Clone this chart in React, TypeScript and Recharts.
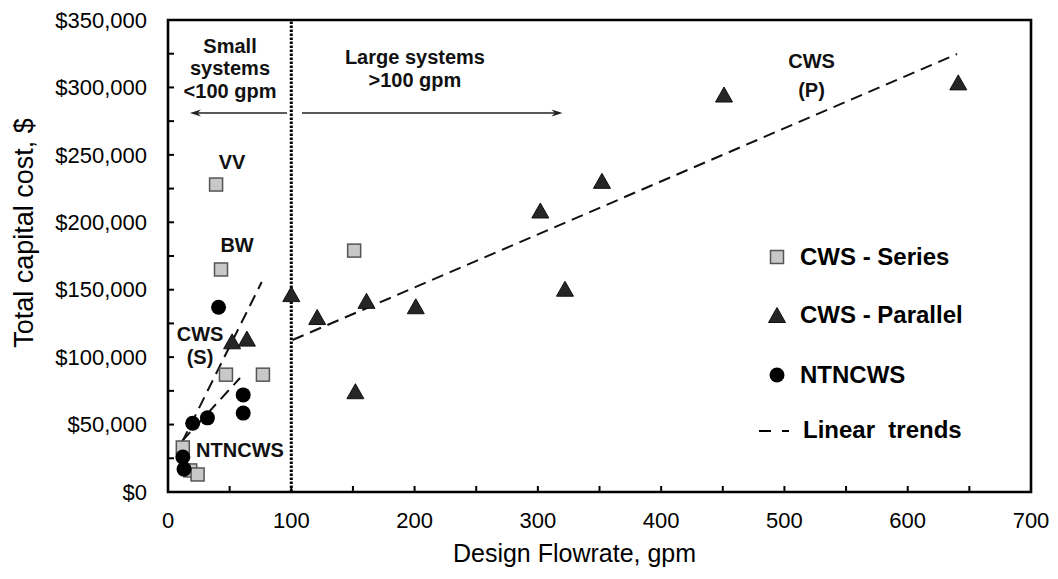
import React from 'react'
import { ScatterChart, Scatter, XAxis, YAxis, ReferenceLine, ReferenceArea, ReferenceDot, Legend } from 'recharts'

// design flowrate (gpm) vs total capital cost ($)
const cwsSeries = [
  { x: 39, y: 228000 }, { x: 43, y: 165000 }, { x: 151, y: 179000 }, { x: 47, y: 87000 },
  { x: 77, y: 87000 }, { x: 12, y: 33000 }, { x: 18, y: 16000 }, { x: 24, y: 13000 },
]
const cwsParallel = [
  { x: 100, y: 146000 }, { x: 121, y: 129000 }, { x: 161, y: 141000 }, { x: 201, y: 137000 },
  { x: 152, y: 74000 }, { x: 302, y: 208000 }, { x: 322, y: 150000 }, { x: 352, y: 230000 },
  { x: 451, y: 294000 }, { x: 641, y: 303000 }, { x: 52, y: 111000 }, { x: 64, y: 113000 },
]
const ntncws = [
  { x: 41, y: 137000 }, { x: 61, y: 72000 }, { x: 61, y: 58500 }, { x: 32, y: 55000 },
  { x: 20, y: 51000 }, { x: 12, y: 26000 }, { x: 13, y: 17000 },
]

// linear trend end points
const trendP = [{ x: 101, y: 112700 }, { x: 640, y: 324800 }]
const trendS = [{ x: 11.4, y: 37000 }, { x: 76, y: 155700 }]
const trendN = [{ x: 11.4, y: 37800 }, { x: 58.4, y: 84500 }]

// arrows (from -> to)
const arrowSmall = [{ x: 96.5, y: 281000 }, { x: 17.8, y: 281000 }]
const arrowLarge = [{ x: 108.7, y: 281000 }, { x: 320, y: 281000 }]

const xTicks = [0, 50, 100, 150, 200, 250, 300, 350, 400, 450, 500, 550, 600, 650, 700]
const yTicks = [0, 25000, 50000, 75000, 100000, 125000, 150000, 175000, 200000, 225000, 250000, 275000, 300000, 325000, 350000]

const notes = [
  { x: 50.3, y: 331000, lines: ['Small', 'systems', '<100 gpm'], gap: 22.5 },
  { x: 200.3, y: 322600, lines: ['Large systems', '>100 gpm'], gap: 23 },
  { x: 522, y: 319600, lines: ['CWS', '(P)'], gap: 29 },
  { x: 52, y: 244700, lines: ['VV'], gap: 0 },
  { x: 56, y: 183000, lines: ['BW'], gap: 0 },
  { x: 26, y: 117000, lines: ['CWS', '(S)'], gap: 23 },
  { x: 58.4, y: 31000, lines: ['NTNCWS'], gap: 0 },
]

const FONT = '"Liberation Sans", Arial, sans-serif'

const Square = ({ cx, cy }: any) => (
  <rect x={cx - 6.5} y={cy - 6.5} width={13} height={13} fill="#c8c8c8" stroke="#555" strokeWidth={1.5} />
)
const Triangle = ({ cx, cy }: any) => (
  <polygon points={`${cx},${cy - 8.5} ${cx + 8.5},${cy + 6.5} ${cx - 8.5},${cy + 6.5}`} fill="#262626" stroke="#111" strokeWidth={1} />
)
const Dot = ({ cx, cy }: any) => <circle cx={cx} cy={cy} r={7.5} fill="#000" />

const Arrow = (p: any) => {
  const { x1, y1, x2, y2 } = p
  const a = Math.atan2(y2 - y1, x2 - x1)
  const L = 11, W = 3.5
  const bx = x2 - L * Math.cos(a), by = y2 - L * Math.sin(a)
  const nx = x2 - 0.7 * L * Math.cos(a), ny = y2 - 0.7 * L * Math.sin(a)
  const px = -Math.sin(a) * W, py = Math.cos(a) * W
  return (
    <g>
      <line x1={x1} y1={y1} x2={nx} y2={ny} stroke="#222" strokeWidth={1.6} />
      <polygon points={`${x2},${y2} ${bx + px},${by + py} ${nx},${ny} ${bx - px},${by - py}`} fill="#222" />
    </g>
  )
}

const YTick = ({ x, y, payload }: any) => (
  <g>
    <line x1={x} x2={x + 6} y1={y} y2={y} stroke="#000" strokeWidth={2} />
    {payload.value % 50000 === 0 && (
      <text x={x - 21} y={y} dy="0.35em" textAnchor="end" fontSize={22} fontFamily={FONT} fill="#000">
        {'$' + payload.value.toLocaleString('en-US')}
      </text>
    )}
  </g>
)

const XTick = ({ x, y, payload }: any) => (
  <g>
    <line x1={x} x2={x} y1={y} y2={y - 6} stroke="#000" strokeWidth={2} />
    {payload.value % 100 === 0 && (
      <text x={x} y={y + 36} textAnchor="middle" fontSize={22} fontFamily={FONT} fill="#000">
        {payload.value}
      </text>
    )}
  </g>
)

const renderLegend = () => (
  <svg width={270} height={230} style={{ display: 'block' }}>
    <g fontFamily={FONT} fontWeight="bold" fontSize={24} fill="#000">
      <Square cx={27} cy={32} />
      <text x={50} y={32} dy="0.35em">CWS - Series</text>
      <Triangle cx={27} cy={91} />
      <text x={50} y={90} dy="0.35em">CWS - Parallel</text>
      <Dot cx={27} cy={150} />
      <text x={50} y={150} dy="0.35em">NTNCWS</text>
      <line x1={9} x2={21} y1={206} y2={206} stroke="#000" strokeWidth={2} />
      <line x1={32} x2={39} y1={206} y2={206} stroke="#000" strokeWidth={2} />
      <text x={53} y={205} dy="0.35em" style={{ whiteSpace: 'pre' }}>{'Linear  trends'}</text>
    </g>
  </svg>
)

const dash = { stroke: '#111', strokeWidth: 2, strokeDasharray: '12 7' }

export default function App() {
  return (
    <div style={{ width: 1050, height: 571, background: '#fff' }}>
      <ScatterChart width={1050} height={571} margin={{ top: 12, right: 27, bottom: 27, left: 0 }}>
        <XAxis
          type="number"
          dataKey="x"
          domain={[0, 700]}
          ticks={xTicks}
          interval={0}
          tickSize={0}
          tickMargin={0}
          tickLine={false}
          axisLine={false}
          height={60}
          tick={<XTick />}
          label={{
            content: ({ viewBox }: any) => (
              <text x={viewBox.x + viewBox.width / 2 - 25} y={viewBox.y + 70} textAnchor="middle" fontSize={25} fontFamily={FONT} fill="#000">
                Design Flowrate, gpm
              </text>
            ),
          }}
        />
        <YAxis
          type="number"
          dataKey="y"
          domain={[0, 350000]}
          ticks={yTicks}
          interval={0}
          tickSize={0}
          tickMargin={0}
          tickLine={false}
          axisLine={false}
          width={160}
          tick={<YTick />}
          label={{
            content: () => (
              <text x={16} y={225} dy="0.35em" transform="rotate(-90, 16, 225)" textAnchor="middle" fontSize={27} fontFamily={FONT} fill="#000">
                Total capital cost, $
              </text>
            ),
          }}
        />
        <ReferenceArea x1={0} x2={700} y1={0} y2={350000} fill="none" stroke="#000" strokeWidth={2.6} />
        <ReferenceLine x={100} stroke="#000" strokeWidth={3} strokeDasharray="2.5 1.5" />
        <ReferenceLine segment={trendP} {...dash} />
        <ReferenceLine segment={trendS} {...dash} />
        <ReferenceLine segment={trendN} {...dash} />
        <ReferenceLine segment={arrowSmall} shape={Arrow} />
        <ReferenceLine segment={arrowLarge} shape={Arrow} />
        {notes.map((n, i) => (
          <ReferenceDot
            key={i}
            x={n.x}
            y={n.y}
            r={0}
            shape={(p: any) => (
              <text x={p.cx} y={p.cy} textAnchor="middle" fontSize={20} fontWeight="bold" fontFamily={FONT} fill="#111">
                {n.lines.map((l, j) => (
                  <tspan key={j} x={p.cx} y={p.cy + j * n.gap} dy="0.35em">{l}</tspan>
                ))}
              </text>
            )}
          />
        ))}
        <Scatter name="CWS - Series" data={cwsSeries} shape={Square} isAnimationActive={false} />
        <Scatter name="CWS - Parallel" data={cwsParallel} shape={Triangle} isAnimationActive={false} />
        <Scatter name="NTNCWS" data={ntncws} shape={Dot} isAnimationActive={false} />
        <Legend
          layout="vertical"
          align="center"
          verticalAlign="middle"
          content={renderLegend}
          wrapperStyle={{ left: 742, top: 217, width: 270, height: 230 }}
        />
      </ScatterChart>
    </div>
  )
}
